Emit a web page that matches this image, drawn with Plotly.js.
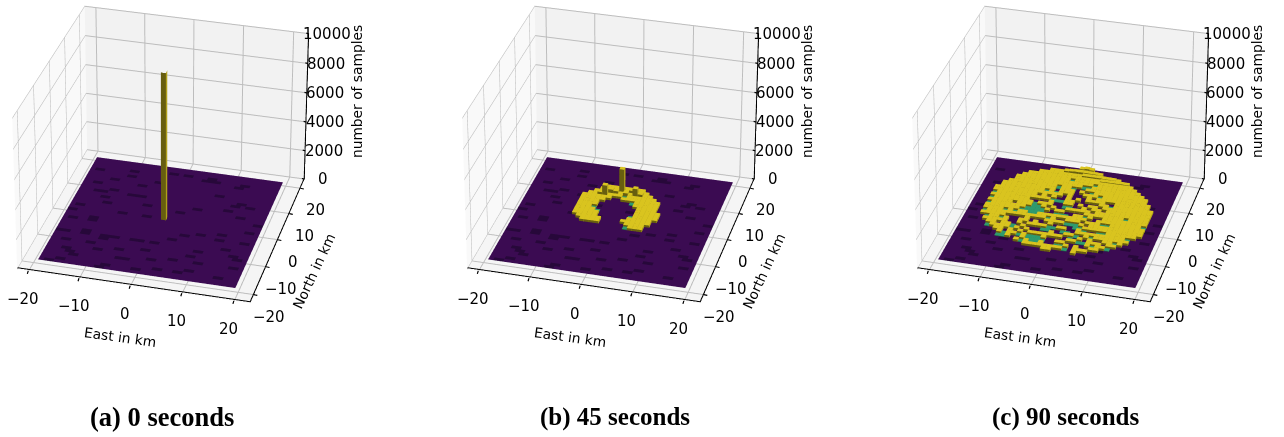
<!DOCTYPE html>
<html><head><meta charset="utf-8">
<script src="https://cdn.plot.ly/plotly-3.0.1.min.js"></script>
<style>html,body{margin:0;padding:0;width:1284px;height:437px;overflow:hidden;background:#fff}
#c{position:absolute;left:0;width:1284px}</style></head>
<body><div id="c"></div>
<script>
// ---------- chart values ----------
const xTicks=[-20,-10,0,10,20], yTicks=[-20,-10,0,10,20], zTicks=[0,2000,4000,6000,8000,10000];
const panelTitles=['(a) 0 seconds','(b) 45 seconds','(c) 90 seconds'];
const xLabel='East in km', yLabel='North in km', zLabel='number of samples';
// cells are [column from west, row from north]
const floorSpecks=[[1,4],[8,3],[8,5],[5,7],[16,2],[19,2],[23,3],[25,3],[30,4],[31,3],[4,12],[10,12],[12,12],[14,15],[1,18],[6,16],[21,16],[24,14],[32,10],[34,11],[1,23],[5,22],[10,19],[15,19],[1,28],[5,27],[9,29],[16,28],[24,24],[31,24],[36,30],[4,35],[3,38],[14,35],[34,37],[27,31],[20,34],[9,33],[28,36],[36,20],[2,9],[12,38],[22,37],[0,20],[5,23],[3,34],[5,36],[9,28],[11,28],[15,28],[5,28],[0,28],[19,28],[22,26],[27,23],[31,22],[35,29],[36,33],[15,35],[11,39],[1,39],[6,11],[5,14],[3,12],[24,2],[31,11],[33,15],[33,27],[13,32],[18,31],[24,33],[29,33],[7,31],[2,31],[28,29],[26,37],[18,38],[30,13],[27,8],[14,6],[11,8],[37,17],[36,24]];
const YELLOW=150, GREEN=40;
// [row, first column, last column]
const spansB=[[8,15,22],[9,14,23],[10,13,24],[11,12,18],[11,20,25],[12,11,16],[12,19,26],[13,11,15],[13,22,26],[14,11,14],[14,22,26],[15,11,14],[15,23,26],[16,11,13],[16,23,27],[17,11,14],[17,23,27],[18,11,15],[18,23,27],[19,11,15],[19,22,26],[20,12,16],[20,21,26],[21,13,16],[21,22,25],[22,23,25]];
const greenB=[[14,16],[15,17],[19,11],[21,13],[22,18],[22,22]];
const tallB=[[18,9,1700],[15,11,800],[21,10,650],[16,10,380],[17,10,320],[20,9,300],[22,10,300],[14,11,300],[19,10,260],[17,9,280]];
const spansC=[[1,18,20],[2,12,22],[3,10,26],[4,8,28],[5,7,29],[6,6,30],[7,6,31],[8,5,32],[9,4,33],[10,4,33],[11,3,34],[12,3,34],[13,3,35],[14,3,35],[15,3,35],[16,3,35],[17,3,35],[18,3,35],[19,3,35],[20,3,35],[21,3,35],[22,4,35],[23,4,34],[24,5,33],[25,5,33],[26,7,32],[27,8,31],[28,9,30],[29,11,28],[30,14,22],[30,24,26],[31,18,19],[31,24,24]];
const greenC=[[3,13],[3,15],[3,17],[3,20],[4,22],[5,25],[7,19],[9,19],[7,22],[10,24],[10,25],[8,28],[9,28],[9,27],[15,8],[17,5],[13,10],[15,10],[18,8],[20,7],[21,7],[22,6],[22,9],[24,10],[27,13],[31,17],[35,19],[33,24],[31,26],[30,28],[22,30],[12,15],[11,17],[12,17],[13,17],[14,17],[10,18],[11,18],[12,18],[13,18],[14,18],[12,19],[13,19],[12,16],[13,16],[15,13],[16,13],[17,13],[17,18],[18,18],[19,18],[16,20],[20,21],[21,21],[17,23],[18,23],[14,27],[15,27],[16,27],[14,28],[15,28],[16,28],[17,28],[15,29],[16,29],[12,27],[13,29],[20,29],[21,29],[22,26],[24,23],[26,25],[27,23],[28,23],[27,20],[28,20],[22,21],[23,18],[27,28],[19,15],[18,15],[23,22],[22,22],[16,24],[17,24],[20,24],[21,24],[24,27],[25,27],[23,25]];
const emptyC=[[12,12],[15,9],[18,8],[19,8],[20,8],[19,9],[21,9],[19,10],[20,10],[19,11],[20,11],[21,11],[19,12],[21,12],[20,13],[21,13],[22,13],[20,14],[22,14],[20,15],[21,15],[16,14],[17,14],[16,15],[17,15],[11,14],[12,14],[8,16],[26,12],[27,12],[26,15],[23,11],[8,21],[10,21],[11,21],[12,23],[14,24],[15,24],[12,25],[13,26],[17,25],[18,20],[19,20],[21,17],[22,17],[25,18],[26,18],[26,23],[24,25],[25,26],[21,23],[19,25],[20,25],[18,27],[19,27],[22,28],[25,28],[11,29],[14,21],[15,22],[16,22],[19,22],[23,20],[24,21],[13,22],[10,23],[11,26],[14,12],[17,11],[24,16],[23,15],[18,16],[15,16],[20,18],[9,23],[23,26],[27,26],[21,26],[16,25],[7,24],[9,26],[29,27],[23,29],[28,26],[14,25],[15,25],[11,24],[13,24],[18,24],[19,24],[22,24],[12,28],[11,28],[18,28],[19,28],[19,29],[18,29],[23,28],[24,28],[25,29],[26,29],[21,27],[20,27],[22,23],[25,23],[15,21],[13,21],[18,22],[20,22],[21,22],[24,19],[25,19],[19,17],[20,17],[16,17],[15,18],[16,18],[9,21],[9,22],[10,22],[17,16],[16,12],[17,12],[23,13],[24,13],[25,14],[14,14],[13,14]];
const ridgeC=[[18,1,330],[19,1,380],[20,1,330],[15,2,240],[16,2,260],[17,2,280],[18,2,280],[19,2,280],[20,2,270],[21,2,260],[22,2,240],[19,3,230],[20,3,230],[21,3,230],[22,3,230],[23,3,220],[24,3,210],[25,3,200],[23,4,190],[24,4,190],[25,4,190],[26,4,190],[27,4,190],[28,4,180]];
const peakA=[[19,19,10000]];
// ---------- drawing ----------
const DIST=11,W=1284,H=2226,TOP=Math.round(H/2-150.5);
document.getElementById('c').style.cssText+=`top:${-TOP}px;height:${H}px`;
const xr=[-22.3,23.1], yr=[-23,23.7], zr=[0,10000];
const EL=30*Math.PI/180, AZ=-75*Math.PI/180;
const eye={x:DIST*Math.cos(EL)*Math.cos(AZ),y:DIST*Math.cos(EL)*Math.sin(AZ),z:DIST*Math.sin(EL)};
const centers=[164.5,614.5,1064.5], titleX=[162,615,1065], titleSize=[26.5,25,25];
const COLS={y:['#d9c41f','#675e0f','#b0a01c'],g:['#2f9a6e','#1c6040','#2a8560']};
const FLOOR='#3b0b52',SPECK='#27083a',AXIS='#000000';
const traces=[];
const tickFont={family:'DejaVu Sans, sans-serif',size:15,color:'#000'}, font={family:'DejaVu Sans, sans-serif',size:13.8,color:'#000'};
const layout={width:W,height:H,margin:{l:0,r:0,t:0,b:0},paper_bgcolor:'#fff',showlegend:false,annotations:[]};
function ax(bg,vals,r){return {range:r,autorange:false,tickvals:vals,showticklabels:false,ticks:'',showline:false,showgrid:true,gridcolor:'#bdbdbd',gridwidth:2,zeroline:false,showbackground:true,backgroundcolor:bg,showspikes:false,title:{text:''}};}
const cellX=u=>-19.4+u*0.99, cellY=v=>20-v;
function gridOf(p){
 const g={};const key=(u,v)=>u+','+v;
 floorSpecks.forEach(([u,v])=>{g[key(u,v)]={h:0,c:SPECK};g[key(u+1,v)]={h:0,c:SPECK};});
 const set=(u,v,h,c)=>g[key(u,v)]={h,c};
 if(p==0)peakA.forEach(([u,v,h])=>set(u,v,h,'y'));
 if(p==1){spansB.forEach(([v,a,b])=>{for(let u=a;u<=b;u++)set(u,v,YELLOW,'y');});greenB.forEach(([u,v])=>set(u,v,GREEN,'g'));tallB.forEach(([u,v,h])=>set(u,v,h,'y'));}
 if(p==2){spansC.forEach(([v,a,b])=>{for(let u=a;u<=b;u++)set(u,v,YELLOW,'y');});emptyC.forEach(([u,v])=>{g[key(u,v)]=undefined;});greenC.forEach(([u,v])=>set(u,v,GREEN,'g'));ridgeC.forEach(([u,v,h])=>set(u,v,h,'y'));}
 return (u,v)=>g[key(u,v)];
}
centers.forEach((c,i)=>{
 const id=i?'scene'+(i+1):'scene';
 const xs=[],ys=[],zs=[],I=[],J=[],K=[],fc=[];
 function quad(p,col){const n=xs.length;p.forEach(q=>{xs.push(q[0]);ys.push(q[1]);zs.push(q[2]);});I.push(n,n);J.push(n+1,n+2);K.push(n+2,n+3);fc.push(col,col);}
 const get=gridOf(i), LIFT=60;
 for(let u=0;u<39;u++)for(let v=0;v<40;v++){
  const x=cellX(u),x2=cellX(u+1),y=cellY(v),y2=y+1,cell=get(u,v);
  if(cell&&cell.h>0){
   const h=cell.h+LIFT,col=COLS[cell.c];
   quad([[x,y,h],[x2,y,h],[x2,y2,h],[x,y2,h]],col[0]);
   quad([[x,y,0],[x2,y,0],[x2,y,h],[x,y,h]],col[1]);
   quad([[x2,y,0],[x2,y2,0],[x2,y2,h],[x2,y,h]],col[2]);
  }else quad([[x,y,LIFT],[x2,y,LIFT],[x2,y2,LIFT],[x,y2,LIFT]],cell?cell.c:FLOOR);
 }
 // thin black axis edges of the box
 const tx=0.22,ty=0.35;
 quad([[xr[0],yr[0],LIFT],[xr[1],yr[0],LIFT],[xr[1],yr[0]+ty,LIFT],[xr[0],yr[0]+ty,LIFT]],AXIS);
 quad([[xr[1]-tx,yr[0],LIFT],[xr[1],yr[0],LIFT],[xr[1],yr[1],LIFT],[xr[1]-tx,yr[1],LIFT]],AXIS);
 quad([[xr[1]-tx,yr[1]-.1,0],[xr[1],yr[1]-.1,0],[xr[1],yr[1]-.1,zr[1]],[xr[1]-tx,yr[1]-.1,zr[1]]],AXIS);
 traces.push({type:'mesh3d',scene:id,x:xs,y:ys,z:zs,i:I,j:J,k:K,facecolor:fc,flatshading:true,lighting:{ambient:1,diffuse:0,specular:0,fresnel:0,roughness:1},hoverinfo:'skip'});
 const ann=[];
 const mark=(x,y,z,ax,ay)=>ann.push({x,y,z,text:' ',showarrow:true,arrowhead:0,arrowwidth:1.2,arrowcolor:'#000',standoff:0,startstandoff:0,ax,ay,font:{size:1}});
 xTicks.forEach(t=>{mark(t,yr[0],0,-1.5,5);ann.push({x:t,y:yr[0],z:0,text:String(t).replace('-','\u2212'),showarrow:false,font:tickFont,xshift:-5,yshift:-28});});
 yTicks.forEach(t=>{mark(xr[1],t,0,5,1);ann.push({x:xr[1],y:t,z:0,text:String(t).replace('-','\u2212'),showarrow:false,font:tickFont,xshift:15,yshift:-22});});
 zTicks.forEach(t=>{mark(xr[1],yr[1],t,-4,-1);ann.push({x:xr[1],y:yr[1],z:t,text:String(t),showarrow:false,font:tickFont,xshift:18.5,yshift:0});});
 ann.push({x:0,y:yr[0],z:0,text:xLabel,showarrow:false,font,textangle:8,xshift:-10,yshift:-51});
 ann.push({x:xr[1],y:0,z:0,text:yLabel,showarrow:false,font,textangle:-65,xshift:36,yshift:-31});
 ann.push({x:xr[1],y:yr[1],z:5000,text:zLabel,showarrow:false,font,textangle:-90,xshift:50,yshift:16});
 layout[id]={domain:{x:[(c-160)/W,(c+160)/W],y:[0,1]},aspectmode:'manual',aspectratio:{x:0.97,y:1,z:0.70},camera:{eye,center:{x:0,y:0,z:0},up:{x:0,y:0,z:1}},dragmode:false,
  xaxis:ax('#f9f9f9',xTicks,xr),yaxis:ax('#f2f2f2',yTicks,yr),zaxis:ax('#f5f5f5',zTicks,zr),annotations:ann};
 layout.annotations.push({xref:'paper',yref:'paper',x:titleX[i]/W,y:1-(417+TOP)/H,xanchor:'center',text:'<b>'+panelTitles[i]+'</b>',showarrow:false,font:{family:'Liberation Serif, serif',size:titleSize[i],color:'#000'}});
});
Plotly.newPlot('c',traces,layout,{displayModeBar:false});
</script></body></html>
